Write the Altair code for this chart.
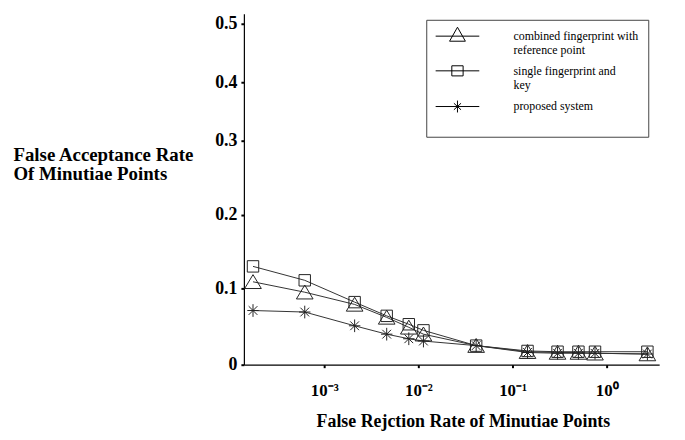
import altair as alt
import pandas as pd

# ---- data ----
series_names = [
    "combined fingerprint with reference point",
    "single fingerprint and key",
    "proposed system",
]
legend_lines = [
    ["combined fingerprint with\u00a0\u00a0\u00a0\u00a0\u00a0\u00a0", "reference point"],
    ["single fingerprint and", "key"],
    ["proposed system", ""],
]
frr = [1.75e-4, 6.2e-4, 2.1e-3, 4.6e-3, 7.9e-3, 1.13e-2, 0.041, 0.144, 0.30, 0.50, 0.75, 2.7]
far_combined = [0.109, 0.095, 0.079, 0.062, 0.049, 0.040, 0.025, 0.017, 0.016, 0.016, 0.015, 0.014]
far_single = [0.130, 0.111, 0.082, 0.064, 0.053, 0.045, 0.025, 0.018, 0.017, 0.017, 0.017, 0.017]
far_proposed = [0.071, 0.069, 0.051, 0.040, 0.034, 0.031, 0.025, 0.016, 0.015, 0.015, 0.015, 0.014]

x_tick_values = [1e-3, 1e-2, 1e-1, 1]
x_tick_labels = ["10\u207b\u00b3", "10\u207b\u00b2", "10\u207b\u00b9", "10\u2070"]
y_tick_values = [0, 0.1, 0.2, 0.3, 0.4, 0.5]

rows = []
for name, vals in zip(series_names, [far_combined, far_single, far_proposed]):
    for f, v in zip(frr, vals):
        rows.append({"frr": f, "far": v, "series": name})
df = pd.DataFrame(rows)

# ---- styling ----
FONT = "Liberation Serif"
marker_paths = [
    "M0,-0.9L1.05,0.85L-1.05,0.85Z",
    "M-0.72,-0.72L0.72,-0.72L0.72,0.72L-0.72,0.72Z",
    "M-0.72,0L0.72,0M0,-0.8L0,0.8M-0.55,-0.55L0.55,0.55M-0.55,0.55L0.55,-0.55",
]
legend_paths = [
    "M-3.67,0L3.67,0M0,-1.5L1.33,0.85L-1.33,0.85Z",
    "M-3.67,0L3.67,0M-0.95,-0.85L0.95,-0.85L0.95,0.85L-0.95,0.85Z",
    "M-3.67,0L3.67,0M0,-1L0,1M-0.6,-0.55L0.6,0.55M-0.6,0.55L0.6,-0.55",
]

x_label_expr = " : ".join(
    f"datum.value == {v} ? '{l}'" for v, l in zip(x_tick_values, x_tick_labels)
) + " : ''"
legend_label_expr = " : ".join(
    "datum.label == '{}' ? [{}]".format(n, ", ".join("'" + s + "'" for s in ls))
    for n, ls in zip(series_names, legend_lines)
) + " : datum.label"

x_axis = alt.Axis(
    values=x_tick_values, labelExpr=x_label_expr, grid=False,
    labelFont=FONT, labelFontSize=17, labelFontWeight="bold", labelColor="black",
    labelPadding=15, labelFlush=False, labelOverlap=False,
    domainColor="black", domainWidth=1.2, tickColor="black", tickSize=3, tickWidth=2,
    title="False Rejction Rate of Minutiae Points",
    titleFont=FONT, titleFontSize=18, titleFontWeight="bold", titleColor="black",
    titleX=221, titleY=62, titleAlign="center", titleBaseline="alphabetic",
)
y_axis = alt.Axis(
    values=y_tick_values, format=".1~f", grid=False,
    labelFont=FONT, labelFontSize=18, labelFontWeight="bold", labelColor="black",
    labelPadding=4, labelFlush=False, labelOverlap=False,
    domainColor="black", domainWidth=1.2, tickColor="black", tickSize=3, tickWidth=2,
    title=["False Acceptance Rate", "Of Minutiae Points"],
    titleFont=FONT, titleFontSize=19, titleFontWeight="bold", titleColor="black",
    titleAngle=0, titleX=-233, titleY=148, titleAlign="left", titleBaseline="alphabetic",
    titleLineHeight=19,
)

x_scale = alt.Scale(type="log", domain=[1.4e-4, 3.6], nice=False)
y_scale = alt.Scale(
    domain=[0, 0.1, 0.2, 0.3, 0.4, 0.5, 0.517],
    range=[354, 277, 203, 128, 69, 10, 0],
    nice=False, zero=False,
)

base = alt.Chart(df).encode(
    x=alt.X("frr:Q", scale=x_scale, axis=x_axis),
    y=alt.Y("far:Q", scale=y_scale, axis=y_axis),
)

lines = base.mark_line(color="#333333", strokeWidth=1).encode(detail="series:N")

points = base.mark_point(filled=False, color="#222222", strokeWidth=1, size=256, opacity=1).encode(
    shape=alt.Shape("series:N", scale=alt.Scale(domain=series_names, range=marker_paths), legend=None)
)

legend_layer = base.transform_filter("false").mark_point(
    filled=False, color="black", strokeWidth=1, opacity=1
).encode(
    shape=alt.Shape(
        "series:N",
        scale=alt.Scale(domain=series_names, range=legend_paths),
        legend=alt.Legend(
            title=None, orient="none", legendX=184, legendY=6, padding=10,
            strokeColor="#444444", fillColor="white",
            symbolSize=144, symbolOffset=15, symbolStrokeColor="black",
            symbolFillColor="transparent", symbolStrokeWidth=1, symbolOpacity=1,
            labelFont=FONT, labelFontSize=12, labelColor="black", labelOffset=50,
            labelLimit=400, labelExpr=legend_label_expr, rowPadding=7,
        ),
    )
)

chart = (
    alt.layer(lines, points, legend_layer)
    .resolve_scale(shape="independent")
    .properties(
        width=419, height=354,
        autosize=alt.AutoSizeParams(type="none"),
        padding={"left": 238, "top": 4, "right": 18, "bottom": 66},
        background="white",
    )
    .configure_view(strokeWidth=0)
)

chart.save("out.html", embed_options={"renderer": "svg", "actions": False})
